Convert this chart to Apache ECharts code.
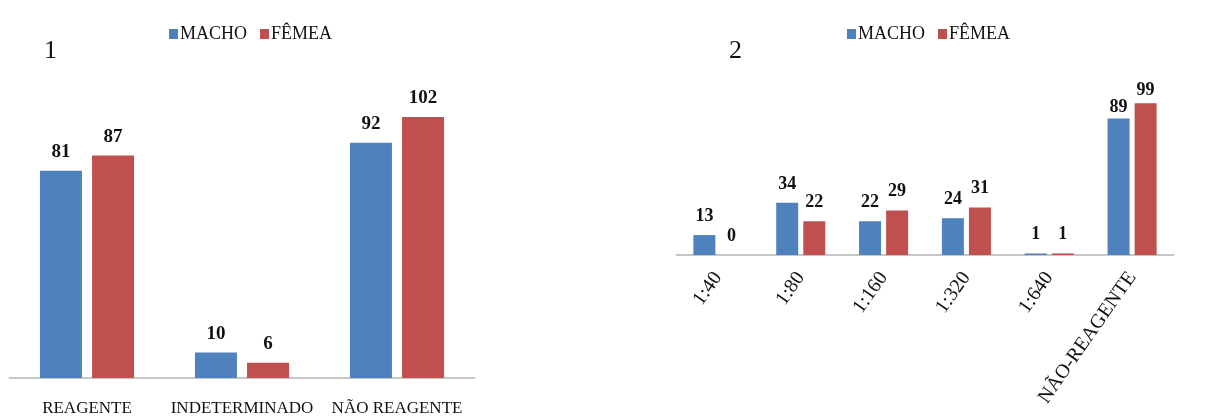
<!DOCTYPE html>
<html>
<head>
<meta charset="utf-8">
<script src="https://cdn.jsdelivr.net/npm/echarts@6/dist/echarts.min.js"></script>
<style>
  html, body { margin: 0; padding: 0; background: #fff; }
  #chart { width: 1216px; height: 419px; }
</style>
</head>
<body>
<div id="chart"></div>
<script>
// Panel 1: serological result by sex
const categories1 = ['REAGENTE', 'INDETERMINADO', 'NÃO REAGENTE'];
const macho1 = [81, 10, 92];
const femea1 = [87, 6, 102];

// Panel 2: titres by sex
const categories2 = ['1:40', '1:80', '1:160', '1:320', '1:640', 'NÃO-REAGENTE'];
const macho2 = [13, 34, 22, 24, 1, 89];
const femea2 = [0, 22, 29, 31, 1, 99];

const seriesNames = ['MACHO', 'FÊMEA'];
const panelTitles = ['1', '2'];

const BLUE = '#4F81BD';
const RED = '#C0504D';
const SERIF = '"Liberation Serif", "DejaVu Serif", serif';

function valueLabel(size, distance) {
  return {
    show: true,
    position: 'top',
    distance: distance,
    fontFamily: SERIF,
    fontWeight: 'bold',
    fontSize: size,
    color: '#111'
  };
}

// The last group of panel 2 is tall, so its labels sit closer to the bars.
function tightLast(values, distance) {
  return values.map((v, i) => i === values.length - 1
    ? { value: v, label: { distance: distance } }
    : v);
}

function bar(name, data, color, axisIndex, width, gap, label) {
  return {
    name: name,
    type: 'bar',
    xAxisIndex: axisIndex,
    yAxisIndex: axisIndex,
    data: data,
    barWidth: width,
    barGap: gap,
    itemStyle: { color: color },
    label: label
  };
}

const chart = echarts.init(document.getElementById('chart'), null, { renderer: 'canvas' });

const legendBase = {
  itemWidth: 9,
  itemHeight: 10,
  itemGap: 13,
  icon: 'rect',
  textStyle: { fontFamily: SERIF, fontSize: 18, color: '#111', padding: [0, 0, 0, -3] },
  data: seriesNames
};

chart.setOption({
  animation: false,
  backgroundColor: '#fff',
  title: [
    { text: panelTitles[0], left: 39, top: 33, textStyle: { fontFamily: SERIF, fontSize: 26, fontWeight: 'normal', color: '#111' } },
    { text: panelTitles[1], left: 724, top: 33, textStyle: { fontFamily: SERIF, fontSize: 26, fontWeight: 'normal', color: '#111' } }
  ],
  legend: [
    Object.assign({}, legendBase, { left: 164, top: 20 }),
    Object.assign({}, legendBase, { left: 842, top: 20 })
  ],
  grid: [
    { left: 9.5, width: 465, top: 71, height: 307 },
    { left: 676.5, width: 497, top: 71, height: 184 }
  ],
  xAxis: [
    {
      type: 'category', gridIndex: 0, data: categories1,
      axisLine: { lineStyle: { color: '#c6c6c6', width: 2 } },
      axisTick: { show: false },
      axisLabel: { fontFamily: SERIF, fontSize: 17, color: '#111', margin: 22, interval: 0 }
    },
    {
      type: 'category', gridIndex: 1, data: categories2,
      axisLine: { lineStyle: { color: '#c6c6c6', width: 2 } },
      axisTick: { show: false },
      axisLabel: { fontFamily: SERIF, fontSize: 20, color: '#111', rotate: 55, margin: 19, interval: 0 }
    }
  ],
  yAxis: [
    { type: 'value', gridIndex: 0, min: 0, max: 120, show: false },
    { type: 'value', gridIndex: 1, min: 0, max: 120, show: false }
  ],
  series: [
    bar(seriesNames[0], macho1, BLUE, 0, 42, '24%', valueLabel(19, 9)),
    bar(seriesNames[1], femea1, RED, 0, 42, '24%', valueLabel(19, 9)),
    bar(seriesNames[0], tightLast(macho2, 2), BLUE, 1, 22, '23%', valueLabel(18, 10)),
    bar(seriesNames[1], tightLast(femea2, 4), RED, 1, 22, '23%', valueLabel(18, 10))
  ]
});
</script>
</body>
</html>
